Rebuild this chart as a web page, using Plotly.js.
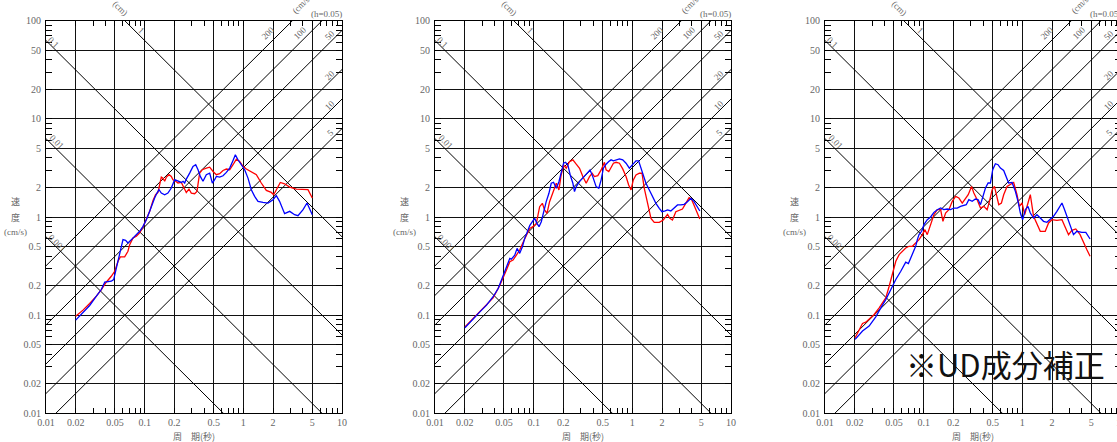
<!DOCTYPE html>
<html><head><meta charset="utf-8">
<script src="https://cdn.plot.ly/plotly-3.0.1.min.js"></script>
<style>html,body{margin:0;padding:0;overflow:hidden;background:#fff}#chart{width:1130px;height:442px}</style>
</head><body><div id="chart"></div>
<script>
// ---- tick definitions ----
const xTicks = [0.01,0.02,0.05,0.1,0.2,0.5,1,2,5,10];
const xTickText = ['0.01','0.02','0.05','0.1','0.2','0.5','1','2','5','10'];
const yTicks = [0.01,0.02,0.05,0.1,0.2,0.5,1,2,5,10,20,50,100];
const yTickText = ['0.01','0.02','0.05','0.1','0.2','0.5','1','2','5','10','20','50','100'];
const xMinor = [0.03,0.04,0.06,0.07,0.08,0.09,0.3,0.4,0.6,0.7,0.8,0.9,3,4,6,7,8,9];
const yMinor = [0.03,0.04,0.06,0.07,0.08,0.09,0.3,0.4,0.6,0.7,0.8,0.9,3,4,6,7,8,9,30,40,60,70,80,90];

// ---- tripartite reference levels ----
const dispLevels = [0.001,0.01,0.1,1];          // cm
const accLevels = [5,10,20,50,100,200];         // cm/s^2

// ---- panel 1 ----
const p1RedT = [0.020,0.0237,0.0277,0.0324,0.0364,0.0408,0.0459,0.0497,0.0537,0.0567,0.0627,0.0677,0.0705,0.0762,0.0824,0.089,0.0962,0.104,0.1124,0.1215,0.129,0.1364,0.1418,0.1475,0.1534,0.1595,0.166,0.1766,0.1862,0.1936,0.206,0.2177,0.2354,0.2484,0.2642,0.2812,0.297,0.321,0.339,0.3606,0.3837,0.4217,0.456,0.4931,0.5327,0.5758,0.6225,0.673,0.7275,0.7863,0.8498,0.9183,0.993,1.073,1.205,1.355,1.52,1.71,1.92,2.03,2.24,2.37,2.62,2.95,3.45,4.03,4.52,5.0];
const p1RedV = [0.0977,0.1125,0.1315,0.156,0.1824,0.2166,0.249,0.28,0.354,0.392,0.392,0.448,0.523,0.611,0.636,0.688,0.791,0.939,1.142,1.477,1.687,1.78,2.22,2.55,2.49,2.31,2.55,2.70,2.59,2.40,2.31,2.22,2.25,2.05,1.78,1.927,1.754,1.726,1.824,2.80,3.03,3.15,3.22,2.91,2.70,2.76,2.98,3.08,3.03,3.41,3.89,3.68,3.28,3.08,2.91,2.70,2.22,1.867,1.78,1.687,2.02,2.25,2.18,2.02,1.927,1.927,1.897,1.561];
const p1BlueT = [0.020,0.0237,0.0277,0.0324,0.0364,0.0394,0.0425,0.0459,0.0485,0.0516,0.0558,0.0603,0.0641,0.0677,0.0733,0.0824,0.089,0.0962,0.104,0.1124,0.1215,0.1262,0.1333,0.1397,0.1475,0.1595,0.172,0.1862,0.2014,0.2177,0.2354,0.2449,0.2543,0.2642,0.2748,0.2857,0.309,0.329,0.3475,0.3664,0.390,0.4217,0.456,0.4853,0.512,0.5327,0.5758,0.6225,0.673,0.7275,0.7863,0.830,0.883,0.955,1.032,1.115,1.205,1.302,1.408,1.582,1.778,2.0,2.16,2.33,2.62,2.95,3.31,3.58,4.03,4.42,4.70,5.0];
const p1BlueV = [0.0889,0.1056,0.1254,0.156,0.1824,0.2166,0.2183,0.2218,0.2306,0.303,0.414,0.588,0.579,0.544,0.588,0.661,0.715,0.804,0.939,1.142,1.443,1.561,1.754,1.897,1.754,1.687,1.754,1.972,2.40,2.31,2.25,2.31,2.22,2.43,2.59,2.80,3.28,3.41,3.03,2.59,2.31,2.70,2.80,2.22,2.40,2.59,2.55,2.63,2.85,3.15,3.77,4.30,3.83,3.41,3.03,2.49,1.897,1.623,1.443,1.410,1.388,1.50,1.648,1.443,1.081,1.142,1.056,1.032,1.187,1.388,1.234,1.056];

// ---- panel 2 ----
const p2RedT = [0.0201,0.0244,0.0285,0.0333,0.0388,0.0454,0.049,0.053,0.0573,0.0618,0.0668,0.0722,0.078,0.0843,0.0912,0.0985,0.1064,0.115,0.1225,0.129,0.1364,0.145,0.157,0.1695,0.1803,0.190,0.201,0.2138,0.231,0.2497,0.270,0.2917,0.315,0.3405,0.368,0.392,0.413,0.4466,0.483,0.5216,0.542,0.577,0.609,0.643,0.684,0.740,0.799,0.863,0.918,0.970,1.023,1.089,1.178,1.253,1.322,1.430,1.545,1.668,1.875,2.057,2.274,2.40,2.55,2.76,2.98,3.22,3.48,3.76,3.97,4.23,4.46,4.83];
const p2RedV = [0.076,0.0925,0.108,0.1265,0.150,0.202,0.237,0.288,0.350,0.364,0.409,0.461,0.551,0.655,0.766,0.797,0.861,1.274,1.378,1.179,1.09,1.433,1.814,2.206,1.887,2.68,3.39,3.14,3.67,3.82,3.45,3.14,2.58,2.206,2.58,2.79,2.58,2.64,3.02,3.61,3.02,2.90,3.19,3.53,3.61,3.53,3.09,2.58,2.12,1.887,2.39,2.68,2.79,2.79,1.962,1.326,0.969,0.882,0.882,0.932,1.065,0.969,0.932,1.133,1.179,1.207,1.378,1.575,1.527,1.326,1.133,0.954];
const p2BlueT = [0.0201,0.0244,0.0285,0.0333,0.0388,0.0437,0.0471,0.0501,0.053,0.0573,0.0594,0.0643,0.0679,0.0722,0.0769,0.0811,0.0863,0.0912,0.097,0.1023,0.108,0.1133,0.1195,0.126,0.134,0.1428,0.1507,0.159,0.1695,0.1803,0.190,0.201,0.2102,0.2222,0.2346,0.2497,0.2594,0.270,0.2917,0.315,0.3405,0.373,0.397,0.4295,0.457,0.483,0.509,0.542,0.577,0.609,0.643,0.684,0.740,0.799,0.863,0.933,1.008,1.089,1.158,1.253,1.374,1.486,1.605,1.734,1.875,1.995,2.155,2.274,2.456,2.65,2.87,3.10,3.35,3.62,3.92,4.23,4.46,4.83];
const p2BlueV = [0.0743,0.0925,0.108,0.1265,0.154,0.187,0.2276,0.277,0.311,0.379,0.372,0.409,0.479,0.426,0.498,0.606,0.708,0.816,0.896,0.969,0.861,0.797,0.896,1.133,1.433,1.743,2.206,2.26,1.962,2.29,2.90,3.53,3.61,3.39,2.68,2.206,1.814,2.04,2.29,2.48,2.72,3.02,2.58,2.04,1.962,2.39,3.14,3.45,3.67,3.82,3.73,3.82,3.91,3.82,3.53,3.14,3.45,3.73,3.73,2.90,2.206,1.887,1.612,1.378,1.226,1.133,1.152,1.179,1.152,1.226,1.326,1.326,1.347,1.433,1.55,1.433,1.326,1.152];

// ---- panel 3 ----
const p3RedT = [0.0202,0.0222,0.024,0.0259,0.028,0.0315,0.0354,0.0382,0.0413,0.0447,0.0483,0.0522,0.0564,0.061,0.0658,0.0711,0.0769,0.083,0.0897,0.097,0.1031,0.1088,0.1176,0.127,0.1374,0.1486,0.1568,0.1668,0.1803,0.195,0.2105,0.2275,0.246,0.262,0.2828,0.3056,0.3225,0.3486,0.3767,0.4068,0.4397,0.4645,0.494,0.5216,0.546,0.577,0.614,0.647,0.700,0.756,0.817,0.883,0.933,0.993,1.057,1.141,1.205,1.300,1.406,1.52,1.706,1.845,1.995,2.24,2.52,2.72,2.94,3.18,3.48,3.85,4.16,4.50,4.86];
const p3RedV = [0.0588,0.0715,0.0822,0.0849,0.0904,0.1016,0.1188,0.1315,0.150,0.197,0.270,0.354,0.414,0.448,0.484,0.503,0.503,0.544,0.588,0.661,0.743,0.661,0.836,1.056,1.187,1.187,0.904,1.098,1.187,1.443,1.623,1.561,1.388,1.50,1.687,2.05,1.754,1.50,1.234,1.283,1.187,1.443,1.897,2.05,1.687,1.335,1.388,1.687,2.05,2.13,2.25,1.687,1.283,1.388,1.056,1.388,1.687,1.016,0.836,0.715,0.715,0.869,0.939,0.925,0.939,0.804,0.661,0.732,0.755,0.661,0.544,0.466,0.398];
const p3BlueT = [0.0202,0.024,0.028,0.0327,0.0368,0.0413,0.0465,0.0522,0.0586,0.0658,0.070,0.0739,0.0798,0.083,0.0863,0.0897,0.0955,0.1007,0.1088,0.1176,0.127,0.1374,0.1486,0.160,0.173,0.1874,0.2025,0.2188,0.2365,0.2555,0.270,0.287,0.310,0.335,0.357,0.3767,0.401,0.423,0.450,0.475,0.501,0.533,0.567,0.600,0.647,0.684,0.727,0.787,0.850,0.904,0.955,1.008,1.072,1.141,1.205,1.300,1.406,1.52,1.64,1.775,1.92,2.07,2.24,2.52,2.68,2.89,3.13,3.30,3.57,4.01,4.40,4.86];
const p3BlueV = [0.0566,0.0688,0.0773,0.0962,0.1188,0.144,0.1824,0.2306,0.280,0.346,0.335,0.383,0.466,0.503,0.588,0.661,0.715,0.836,0.939,1.0,1.115,1.187,1.234,1.187,1.206,1.187,1.234,1.234,1.283,1.304,1.335,1.50,1.443,1.524,1.50,1.335,1.623,1.972,2.22,2.22,3.03,3.49,3.41,3.15,2.98,2.59,2.22,2.25,1.824,1.443,1.098,0.939,1.187,1.283,1.098,0.977,1.056,0.977,0.904,0.883,0.939,1.016,1.142,1.388,1.187,0.977,0.773,0.661,0.715,0.698,0.698,0.597];

const panels = [
  {redT:p1RedT, redV:p1RedV, blueT:p1BlueT, blueV:p1BlueV},
  {redT:p2RedT, redV:p2RedV, blueT:p2BlueT, blueV:p2BlueV},
  {redT:p3RedT, redV:p3RedV, blueT:p3BlueT, blueV:p3BlueV}
];

// ---- labels text ----
const dispLabels = ['0.001','0.01','0.1','1'];
const accLabels = ['5','10','20','50','100','200'];

// ---- combined tick arrays: labelled majors + blank minors (inside tick marks) ----
function combine(major, majorText, minor){
  const all = major.map((v,k)=>({v, t:majorText[k]})).concat(minor.map(v=>({v, t:''})));
  all.sort((a,b)=>a.v-b.v);
  return {vals: all.map(o=>o.v), text: all.map(o=>o.t)};
}
const xAll = combine(xTicks, xTickText, xMinor);
const yAll = combine(yTicks, yTickText, yMinor);

// ---- layout geometry (pixels) ----
const W = 1130, H = 442;
const panelLeft = [46, 435, 825];
const panelW = 296;
const plotTop = 20.7, plotBottom = 413.3;

const TMIN = 0.01, TMAX = 10;
const traces = [];
const layout = {
  width: W, height: H, margin:{l:0,r:0,t:0,b:0},
  paper_bgcolor:'#fff', plot_bgcolor:'#fff', showlegend:false,
  annotations: []
};

const tickFont = {family:'Liberation Serif, serif', size:10, color:'#666'};
const lblFont = {family:'Liberation Serif, serif', size:9, color:'#666'};
const cjkFont = {family:'Noto Sans CJK JP, sans-serif', size:9, color:'#666'};

function P(i, px, py){ return {x:(panelLeft[i] + px - 46)/W, y:1 - py/H}; }
function ann(i, text, px, py, angle, font){
  const p = P(i, px, py);
  layout.annotations.push({xref:'paper', yref:'paper', x:p.x, y:p.y, text:text,
    showarrow:false, textangle:angle||0, font:font||lblFont, xanchor:'center', yanchor:'middle'});
}

panels.forEach((pd, i) => {
  const sx = i === 0 ? '' : String(i+1);
  const xa = 'x'+sx, ya = 'y'+sx;
  const gx = 'x'+(4+i), gy = 'y'+(4+i);
  // reference diagonal lines
  const dx = [], dy = [];
  dispLevels.forEach(d => { dx.push(TMIN, TMAX, null); dy.push(2*Math.PI*d/TMIN, 2*Math.PI*d/TMAX, null); });
  accLevels.forEach(a => { dx.push(TMIN, TMAX, null); dy.push(a*TMIN/(2*Math.PI), a*TMAX/(2*Math.PI), null); });
  // invisible trace to activate the grid-carrying overlay axes
  traces.push({x:[TMIN], y:[TMIN], xaxis:gx, yaxis:gy, mode:'markers', marker:{opacity:0}, hoverinfo:'skip'});
  traces.push({x:dx, y:dy, xaxis:xa, yaxis:ya, mode:'lines', line:{color:'#000', width:1}, hoverinfo:'skip', connectgaps:false});
  traces.push({x:pd.redT, y:pd.redV, xaxis:xa, yaxis:ya, mode:'lines', line:{color:'#ff0000', width:1.3}, hoverinfo:'skip'});
  traces.push({x:pd.blueT, y:pd.blueV, xaxis:xa, yaxis:ya, mode:'lines', line:{color:'#0000ff', width:1.3}, hoverinfo:'skip'});

  const xDom = [panelLeft[i]/W, (panelLeft[i]+panelW)/W];
  const yDom = [1-plotBottom/H, 1-plotTop/H];
  // main axes: labels + inside tick marks mirrored on all four sides
  layout['xaxis'+sx] = {type:'log', range:[-2,1], domain:xDom, anchor:ya,
    tickmode:'array', tickvals:xAll.vals, ticktext:xAll.text,
    ticks:'inside', ticklen:5, tickwidth:1, tickcolor:'#000', mirror:'ticks',
    showline:true, linecolor:'#000', linewidth:1, showgrid:false, zeroline:false,
    tickfont:tickFont, ticklabelstandoff:0, fixedrange:true};
  layout['yaxis'+sx] = {type:'log', range:[-2,2], domain:yDom, anchor:xa,
    tickmode:'array', tickvals:yAll.vals, ticktext:yAll.text,
    ticks:'inside', ticklen:6, tickwidth:1, tickcolor:'#000', mirror:'ticks',
    showline:true, linecolor:'#000', linewidth:1, showgrid:false, zeroline:false,
    tickfont:tickFont, ticklabelstandoff:2, fixedrange:true};
  // overlay axes: major grid lines only
  layout['xaxis'+(4+i)] = {type:'log', range:[-2,1], domain:xDom, overlaying:xa, anchor:ya, side:'top',
    tickmode:'array', tickvals:xTicks, showticklabels:false, ticks:'', showline:false,
    showgrid:true, gridcolor:'#111', gridwidth:1, zeroline:false, fixedrange:true};
  layout['yaxis'+(4+i)] = {type:'log', range:[-2,2], domain:yDom, overlaying:ya, anchor:xa, side:'right',
    tickmode:'array', tickvals:yTicks, showticklabels:false, ticks:'', showline:false,
    showgrid:true, gridcolor:'#111', gridwidth:1, zeroline:false, fixedrange:true};

  // labels
  ann(i, '(cm)', 120, 8, 45);
  ann(i, dispLabels[3], 141.7, 30.7, 45);
  ann(i, dispLabels[2], 53, 41.7, 45);
  ann(i, dispLabels[1], 57, 141.7, 45);
  ann(i, dispLabels[0], 57, 243, 45);
  ann(i, '(cm/s²)', 303, 3, -45);
  ann(i, '(h=0.05)', 326.7, 14, 0);
  ann(i, accLabels[5], 268, 33, -45);
  ann(i, accLabels[4], 300, 33, -45);
  ann(i, accLabels[3], 330, 35, -45);
  ann(i, accLabels[2], 330, 75, -45);
  ann(i, accLabels[1], 330, 105, -45);
  ann(i, accLabels[0], 330, 133, -45);
  // axis titles
  ann(i, '速', 15, 201.7, 0, cjkFont);
  ann(i, '度', 15, 217, 0, cjkFont);
  ann(i, '(cm/s)', 15, 231.7, 0, lblFont);
  ann(i, '周　期(秒)', 194, 436, 0, cjkFont);
});
ann(2, '※UD成分補正', 1005-825+46, 363, 0, {family:'Noto Sans CJK JP, sans-serif', size:31, color:'#111'});

Plotly.newPlot('chart', traces, layout, {staticPlot:true, displayModeBar:false});
</script></body></html>
